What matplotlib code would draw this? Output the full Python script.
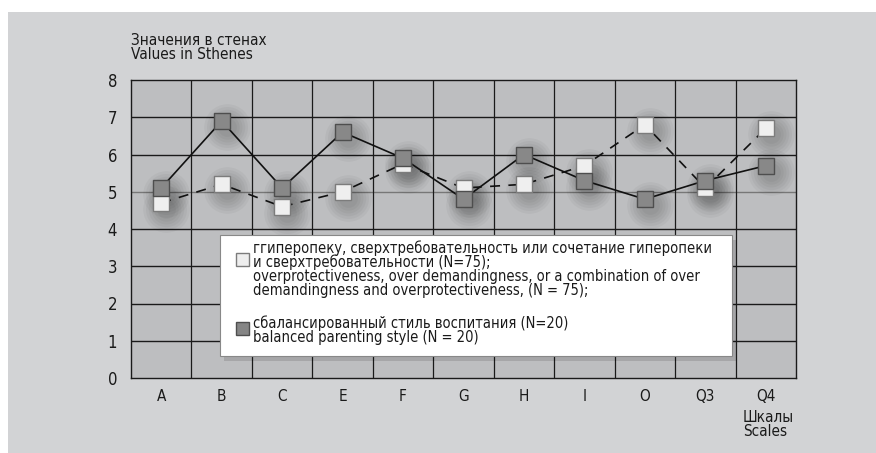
import matplotlib
matplotlib.use("Agg")
import matplotlib.pyplot as plt
from matplotlib.patches import Rectangle
from matplotlib.transforms import offset_copy

plt.rcParams['font.family'] = ['DejaVu Sans']
plt.rcParams['font.stretch'] = 'condensed'

categories = ["A", "B", "C", "E", "F", "G", "H", "I", "O", "Q3", "Q4"]
over_values = [4.7, 5.2, 4.6, 5.0, 5.75, 5.1, 5.2, 5.7, 6.8, 5.1, 6.7]
balanced_values = [5.1, 6.9, 5.1, 6.6, 5.9, 4.8, 6.0, 5.3, 4.8, 5.3, 5.7]
y_ticks = [0, 1, 2, 3, 4, 5, 6, 7, 8]

legend_over = ("ггиперопеку, сверхтребовательность или сочетание гиперопеки\n"
               "и сверхтребовательности (N=75);\n"
               "overprotectiveness, over demandingness, or a combination of over\n"
               "demandingness and overprotectiveness, (N = 75);")
legend_bal = ("сбалансированный стиль воспитания (N=20)\n"
              "balanced parenting style (N = 20)")

W, H = 876, 453
fig = plt.figure(figsize=(W / 100, H / 100), dpi=100)
fig.patch.set_facecolor('white')
fig.patches.append(Rectangle((8 / W, 0), 1, 1 - 12 / H, transform=fig.transFigure,
                             facecolor='#d2d3d5', edgecolor='none', zorder=-10))

ax = fig.add_axes([131 / W, (H - 378) / H, 665 / W, 298 / H])
ax.set_facecolor('#bdbec0')
x = list(range(len(categories)))
ax.set_xlim(-0.5, len(categories) - 0.5)
ax.set_ylim(0, 8)

# grid
for v in y_ticks[1:-1]:
    ax.axhline(v, color='#777777' if v == 5 else '#1a1a1a', lw=1.0, zorder=1)
for b in range(1, len(categories)):
    ax.axvline(b - 0.5, color='#1a1a1a', lw=0.9, zorder=1)
for s in ax.spines.values():
    s.set_color('#1a1a1a')
    s.set_linewidth(1.0)

# lines
ax.plot(x, over_values, color='#111111', lw=1.2, ls=(0, (6, 5)), zorder=3)
ax.plot(x, balanced_values, color='#111111', lw=1.2, ls='-', zorder=3)

# soft shadows
ms = 11.5
for vals in (over_values, balanced_values):
    tr = offset_copy(ax.transData, fig=fig, x=5, y=-6, units='dots')
    for extra in [22, 18, 14, 10, 6, 2]:
        ax.plot(x, vals, ls='none', marker='o', ms=ms + extra, mfc='black',
                mec='none', alpha=0.035, transform=tr, zorder=2)

ax.plot(x, over_values, ls='none', marker='s', ms=ms, mfc='#efefef',
        mec='#7c7c7c', mew=1.0, zorder=4)
ax.plot(x, balanced_values, ls='none', marker='s', ms=ms, mfc='#888888',
        mec='#4e4e4e', mew=1.0, zorder=5)

ax.set_xticks(x)
ax.set_xticklabels(categories)
ax.set_yticks(y_ticks)
ax.tick_params(axis='both', length=0, labelsize=11, colors='#1a1a1a')
ax.tick_params(axis='x', pad=8)
ax.tick_params(axis='y', pad=10)
for lbl in ax.get_yticklabels():
    lbl.set_fontsize(12)

fig.text(131 / W, 1 - 33 / H, "Значения в стенах\nValues in Sthenes", fontsize=11,
         va='top', ha='left', linespacing=0.95, color='#1a1a1a')
fig.text(743 / W, 1 - 410 / H, "Шкалы\nScales", fontsize=11, va='top', ha='left',
         linespacing=0.95, color='#1a1a1a')

# legend box
lx0, ly0, lx1, ly1 = 220, 235, 732, 356
fig.patches.append(Rectangle((lx0 / W + 0.005, 1 - (ly1 + 5) / H), (lx1 - lx0) / W, (ly1 - ly0) / H,
                             transform=fig.transFigure, facecolor='black', alpha=0.12,
                             edgecolor='none', zorder=8))
fig.patches.append(Rectangle((lx0 / W, 1 - ly1 / H), (lx1 - lx0) / W, (ly1 - ly0) / H,
                             transform=fig.transFigure, facecolor='white',
                             edgecolor='#888888', lw=0.8, zorder=9))
fig.patches.append(Rectangle((236 / W, 1 - 266 / H), 13 / W, 13 / H, transform=fig.transFigure,
                             facecolor='#eeeeee', edgecolor='#7c7c7c', lw=1.0, zorder=10))
fig.patches.append(Rectangle((236 / W, 1 - 335 / H), 13 / W, 13 / H, transform=fig.transFigure,
                             facecolor='#858585', edgecolor='#4e4e4e', lw=1.0, zorder=10))
fig.text(253 / W, 1 - 240 / H, legend_over, fontsize=10.5, va='top', ha='left',
         linespacing=0.92, color='#1a1a1a', zorder=11)
fig.text(253 / W, 1 - 315 / H, legend_bal, fontsize=10.5, va='top', ha='left',
         linespacing=0.92, color='#1a1a1a', zorder=11)

fig.savefig("out.png", dpi=100, facecolor=fig.get_facecolor())
